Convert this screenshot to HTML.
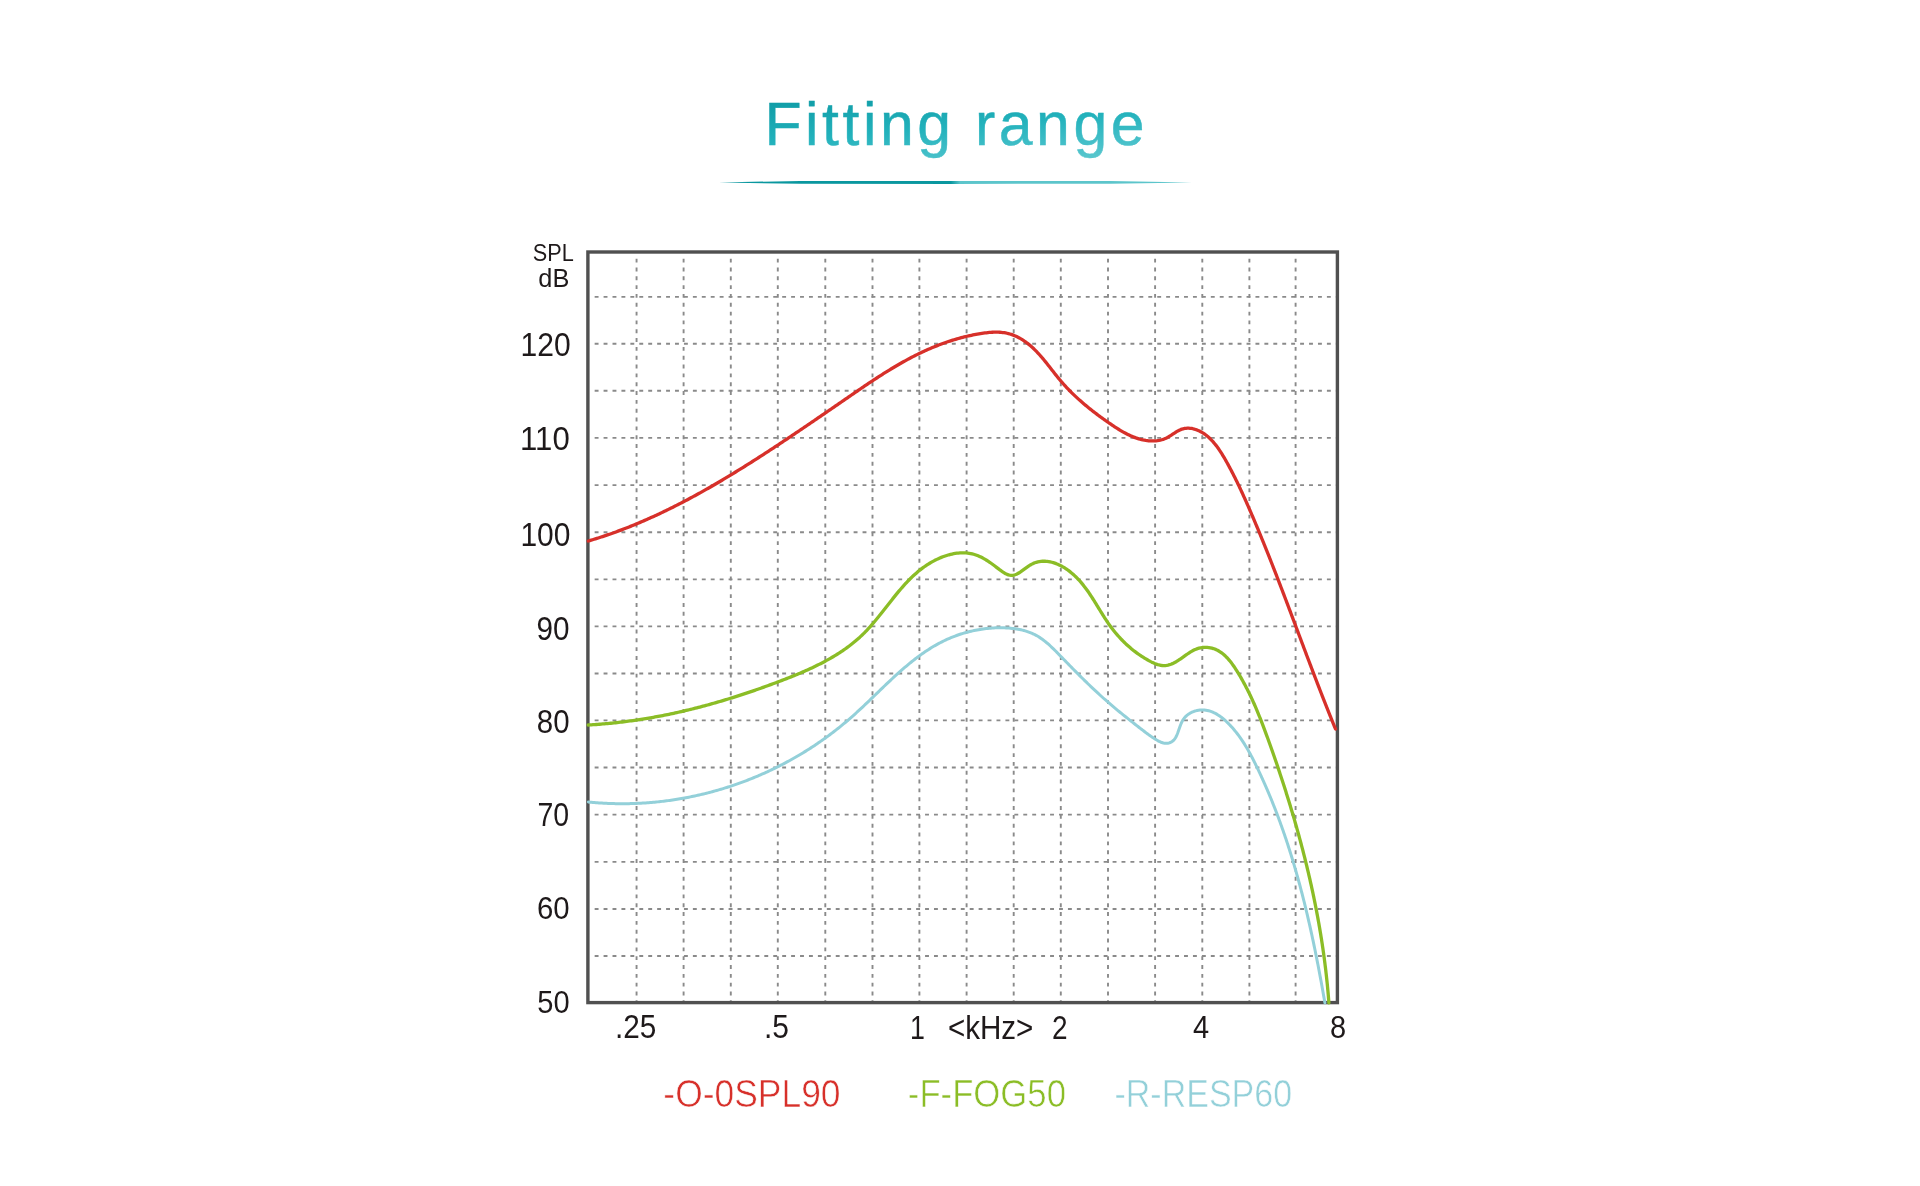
<!DOCTYPE html>
<html><head><meta charset="utf-8"><title>Fitting range</title>
<style>
html,body{margin:0;padding:0;background:#fff;width:1920px;height:1186px;overflow:hidden}
svg{display:block}
text{font-family:"Liberation Sans",sans-serif}
.gv{stroke:#8a8a8a;stroke-width:1.9;stroke-dasharray:3.9 4.93}
.gh{stroke:#8a8a8a;stroke-width:1.9;stroke-dasharray:3.9 5.03}
.c{fill:none;stroke-width:3.3;stroke-linecap:round;stroke-linejoin:round}
</style></head>
<body>
<svg width="1920" height="1186" viewBox="0 0 1920 1186">
<defs>
<linearGradient id="tg" x1="0" y1="0" x2="0.858" y2="1.83">
<stop offset="0" stop-color="#0a96a0"/>
<stop offset="0.35" stop-color="#23b2bc"/>
<stop offset="0.56" stop-color="#4bc2cb"/>
<stop offset="0.66" stop-color="#5fc8cd"/>
<stop offset="1" stop-color="#70d0d5"/>
</linearGradient>
<linearGradient id="lg" x1="719" y1="0" x2="1192" y2="0" gradientUnits="userSpaceOnUse">
<stop offset="0" stop-color="#0a979f"/>
<stop offset="0.49" stop-color="#0a979f"/>
<stop offset="0.51" stop-color="#5cc5cb"/>
<stop offset="1" stop-color="#5cc5cb"/>
</linearGradient>
</defs>
<rect width="1920" height="1186" fill="#fff"/>
<polygon fill="url(#lg)" points="719,182.4 800,181 955,180.9 1110,181 1192,182.4 1110,183.8 955,183.9 800,183.8"/>
<g>
<line x1="636.56" y1="258.65" x2="636.56" y2="1001" class="gv"/>
<line x1="683.60" y1="258.65" x2="683.60" y2="1001" class="gv"/>
<line x1="730.80" y1="258.65" x2="730.80" y2="1001" class="gv"/>
<line x1="777.80" y1="258.65" x2="777.80" y2="1001" class="gv"/>
<line x1="825.30" y1="258.65" x2="825.30" y2="1001" class="gv"/>
<line x1="872.50" y1="258.65" x2="872.50" y2="1001" class="gv"/>
<line x1="919.40" y1="258.65" x2="919.40" y2="1001" class="gv"/>
<line x1="966.60" y1="258.65" x2="966.60" y2="1001" class="gv"/>
<line x1="1013.70" y1="258.65" x2="1013.70" y2="1001" class="gv"/>
<line x1="1060.80" y1="258.65" x2="1060.80" y2="1001" class="gv"/>
<line x1="1108.00" y1="258.65" x2="1108.00" y2="1001" class="gv"/>
<line x1="1155.10" y1="258.65" x2="1155.10" y2="1001" class="gv"/>
<line x1="1202.30" y1="258.65" x2="1202.30" y2="1001" class="gv"/>
<line x1="1249.40" y1="258.65" x2="1249.40" y2="1001" class="gv"/>
<line x1="1295.60" y1="258.65" x2="1295.60" y2="1001" class="gv"/>
<line x1="594.65" y1="296.90" x2="1336" y2="296.90" class="gh"/>
<line x1="594.65" y1="343.70" x2="1336" y2="343.70" class="gh"/>
<line x1="594.65" y1="390.80" x2="1336" y2="390.80" class="gh"/>
<line x1="594.65" y1="437.90" x2="1336" y2="437.90" class="gh"/>
<line x1="594.65" y1="485.10" x2="1336" y2="485.10" class="gh"/>
<line x1="594.65" y1="532.20" x2="1336" y2="532.20" class="gh"/>
<line x1="594.65" y1="579.40" x2="1336" y2="579.40" class="gh"/>
<line x1="594.65" y1="626.40" x2="1336" y2="626.40" class="gh"/>
<line x1="594.65" y1="673.50" x2="1336" y2="673.50" class="gh"/>
<line x1="594.65" y1="720.40" x2="1336" y2="720.40" class="gh"/>
<line x1="594.65" y1="767.50" x2="1336" y2="767.50" class="gh"/>
<line x1="594.65" y1="814.60" x2="1336" y2="814.60" class="gh"/>
<line x1="594.65" y1="861.90" x2="1336" y2="861.90" class="gh"/>
<line x1="594.65" y1="909.00" x2="1336" y2="909.00" class="gh"/>
<line x1="594.65" y1="956.00" x2="1336" y2="956.00" class="gh"/>
</g>
<rect x="587.9" y="252" width="749.5" height="750.6" fill="none" stroke="#505050" stroke-width="3.4"/>
<path class="c" stroke="#93d0d9" style="stroke-width:3.0" d="M588.40,802.00 L589.90,802.15 L591.41,802.29 L592.92,802.43 L594.43,802.56 L595.93,802.68 L597.44,802.80 L598.95,802.91 L600.46,803.01 L601.97,803.10 L603.48,803.19 L604.99,803.27 L606.49,803.34 L608.00,803.41 L609.51,803.47 L611.02,803.53 L612.53,803.57 L614.04,803.61 L615.55,803.65 L617.06,803.67 L618.57,803.69 L620.07,803.71 L621.58,803.71 L623.09,803.71 L624.60,803.71 L626.11,803.69 L627.61,803.67 L629.12,803.65 L630.63,803.61 L632.13,803.57 L633.64,803.52 L635.14,803.47 L636.65,803.41 L638.15,803.34 L639.66,803.27 L641.16,803.19 L642.66,803.10 L644.17,803.01 L645.67,802.91 L647.17,802.80 L648.67,802.69 L650.17,802.57 L651.67,802.44 L653.17,802.31 L654.67,802.17 L656.16,802.03 L657.66,801.87 L659.16,801.71 L660.65,801.55 L662.15,801.38 L663.64,801.20 L665.13,801.01 L666.62,800.82 L668.11,800.62 L669.60,800.42 L671.09,800.21 L672.58,799.99 L674.07,799.77 L675.55,799.54 L677.04,799.30 L678.52,799.06 L680.00,798.81 L681.48,798.55 L682.96,798.29 L684.44,798.02 L685.92,797.74 L687.40,797.46 L688.87,797.17 L690.34,796.88 L691.82,796.58 L693.29,796.27 L694.76,795.96 L696.23,795.64 L697.69,795.31 L699.16,794.98 L700.62,794.64 L702.08,794.30 L703.55,793.95 L705.01,793.59 L706.46,793.23 L707.92,792.86 L709.37,792.48 L710.83,792.10 L712.28,791.71 L713.73,791.31 L715.18,790.91 L716.62,790.51 L718.07,790.09 L719.51,789.67 L720.95,789.25 L722.39,788.81 L723.83,788.38 L725.26,787.93 L726.70,787.48 L728.13,787.03 L729.56,786.56 L730.99,786.09 L732.41,785.62 L733.84,785.14 L735.26,784.65 L736.68,784.16 L738.10,783.66 L739.51,783.15 L740.93,782.64 L742.34,782.12 L743.75,781.60 L745.15,781.07 L746.56,780.53 L747.96,779.99 L749.36,779.44 L750.76,778.89 L752.15,778.33 L753.55,777.76 L754.94,777.19 L756.33,776.61 L757.71,776.03 L759.09,775.44 L760.48,774.84 L761.85,774.24 L763.23,773.63 L764.60,773.02 L765.97,772.40 L767.34,771.78 L768.71,771.14 L770.07,770.51 L771.43,769.86 L772.79,769.21 L774.15,768.56 L775.50,767.90 L776.85,767.23 L778.19,766.56 L779.54,765.88 L780.88,765.20 L782.22,764.51 L783.55,763.81 L784.89,763.11 L786.22,762.40 L787.54,761.69 L788.87,760.97 L790.19,760.24 L791.50,759.51 L792.82,758.78 L794.13,758.04 L795.44,757.29 L796.74,756.53 L798.05,755.77 L799.35,755.01 L800.64,754.24 L801.93,753.46 L803.22,752.68 L804.51,751.89 L805.79,751.10 L807.07,750.30 L808.35,749.49 L809.62,748.68 L810.89,747.87 L812.16,747.05 L813.42,746.22 L814.68,745.38 L815.93,744.55 L817.19,743.70 L818.44,742.85 L819.68,742.00 L820.92,741.13 L822.16,740.27 L823.39,739.40 L824.63,738.52 L825.85,737.63 L827.08,736.75 L828.30,735.85 L829.51,734.95 L830.72,734.05 L831.93,733.13 L833.14,732.22 L834.34,731.30 L835.53,730.37 L836.73,729.43 L837.92,728.50 L839.10,727.55 L840.28,726.60 L841.46,725.65 L842.63,724.69 L843.80,723.72 L844.97,722.75 L846.13,721.77 L847.28,720.79 L848.44,719.80 L849.59,718.81 L850.73,717.81 L851.87,716.81 L853.01,715.80 L854.14,714.79 L855.27,713.77 L856.40,712.75 L857.52,711.73 L858.64,710.70 L859.76,709.66 L860.87,708.63 L861.98,707.59 L863.09,706.55 L864.20,705.50 L865.30,704.46 L866.41,703.41 L867.51,702.36 L868.61,701.31 L869.71,700.25 L870.80,699.20 L871.90,698.14 L872.99,697.09 L874.09,696.03 L875.18,694.97 L876.27,693.92 L877.37,692.86 L878.46,691.81 L879.55,690.75 L880.64,689.70 L881.73,688.64 L882.83,687.59 L883.92,686.54 L885.01,685.50 L886.11,684.45 L887.21,683.41 L888.30,682.37 L889.40,681.33 L890.50,680.29 L891.60,679.26 L892.71,678.24 L893.81,677.21 L894.92,676.19 L896.03,675.18 L897.14,674.16 L898.26,673.16 L899.38,672.16 L900.50,671.16 L901.62,670.17 L902.75,669.18 L903.88,668.21 L905.02,667.23 L906.15,666.27 L907.30,665.31 L908.44,664.35 L909.59,663.41 L910.75,662.47 L911.91,661.54 L913.07,660.61 L914.24,659.70 L915.41,658.79 L916.59,657.89 L917.78,657.00 L918.97,656.12 L920.16,655.25 L921.36,654.39 L922.57,653.53 L923.78,652.69 L925.00,651.86 L926.23,651.03 L927.46,650.22 L928.70,649.42 L929.95,648.63 L931.20,647.85 L932.46,647.08 L933.73,646.33 L935.00,645.59 L936.29,644.85 L937.58,644.14 L938.88,643.43 L940.18,642.74 L941.50,642.06 L942.82,641.39 L944.15,640.74 L945.49,640.10 L946.84,639.47 L948.20,638.86 L949.57,638.27 L950.95,637.69 L952.34,637.12 L953.73,636.57 L955.14,636.03 L956.55,635.51 L957.98,635.01 L959.41,634.52 L960.85,634.05 L962.30,633.59 L963.75,633.15 L965.21,632.73 L966.68,632.32 L968.15,631.93 L969.63,631.55 L971.12,631.20 L972.61,630.86 L974.10,630.53 L975.60,630.23 L977.10,629.94 L978.61,629.66 L980.12,629.41 L981.64,629.17 L983.15,628.96 L984.67,628.76 L986.19,628.57 L987.72,628.41 L989.24,628.27 L990.77,628.14 L992.29,628.03 L993.82,627.94 L995.35,627.87 L996.88,627.82 L998.40,627.79 L999.93,627.78 L1001.45,627.78 L1002.98,627.81 L1004.50,627.86 L1006.02,627.92 L1007.54,628.01 L1009.05,628.12 L1010.56,628.24 L1012.07,628.39 L1013.56,628.57 L1015.06,628.77 L1016.54,628.99 L1018.02,629.24 L1019.49,629.52 L1020.95,629.83 L1022.40,630.16 L1023.83,630.53 L1025.26,630.93 L1026.67,631.36 L1028.07,631.82 L1029.45,632.31 L1030.82,632.85 L1032.17,633.41 L1033.50,634.02 L1034.81,634.66 L1036.11,635.35 L1037.38,636.07 L1038.64,636.82 L1039.88,637.62 L1041.11,638.44 L1042.31,639.30 L1043.51,640.18 L1044.68,641.10 L1045.85,642.03 L1047.00,642.99 L1048.14,643.98 L1049.27,644.98 L1050.39,646.00 L1051.50,647.04 L1052.60,648.09 L1053.70,649.15 L1054.78,650.22 L1055.86,651.31 L1056.94,652.39 L1058.01,653.49 L1059.08,654.58 L1060.14,655.68 L1061.20,656.77 L1062.26,657.87 L1063.32,658.96 L1064.38,660.05 L1065.44,661.14 L1066.50,662.22 L1067.55,663.31 L1068.61,664.39 L1069.66,665.47 L1070.71,666.54 L1071.77,667.62 L1072.82,668.69 L1073.88,669.76 L1074.93,670.83 L1075.99,671.89 L1077.04,672.96 L1078.10,674.02 L1079.16,675.07 L1080.21,676.13 L1081.27,677.19 L1082.34,678.24 L1083.40,679.29 L1084.46,680.33 L1085.53,681.38 L1086.60,682.42 L1087.67,683.46 L1088.74,684.50 L1089.82,685.53 L1090.89,686.56 L1091.98,687.59 L1093.06,688.62 L1094.15,689.64 L1095.24,690.67 L1096.33,691.68 L1097.43,692.70 L1098.53,693.72 L1099.63,694.73 L1100.74,695.74 L1101.85,696.74 L1102.97,697.75 L1104.09,698.75 L1105.22,699.74 L1106.35,700.74 L1107.49,701.73 L1108.63,702.72 L1109.78,703.71 L1110.93,704.69 L1112.08,705.68 L1113.24,706.66 L1114.40,707.63 L1115.57,708.60 L1116.74,709.58 L1117.91,710.54 L1119.09,711.51 L1120.26,712.47 L1121.44,713.43 L1122.62,714.38 L1123.80,715.34 L1124.99,716.29 L1126.17,717.23 L1127.35,718.18 L1128.54,719.12 L1129.72,720.06 L1130.90,720.99 L1132.08,721.92 L1133.26,722.85 L1134.44,723.78 L1135.62,724.70 L1136.79,725.62 L1137.96,726.53 L1139.13,727.45 L1140.30,728.36 L1141.46,729.26 L1142.63,730.17 L1143.80,731.06 L1144.97,731.96 L1146.15,732.85 L1147.35,733.74 L1148.56,734.62 L1149.79,735.49 L1151.03,736.36 L1152.30,737.23 L1153.60,738.08 L1154.93,738.93 L1156.28,739.77 L1157.66,740.57 L1159.07,741.32 L1160.49,741.98 L1161.92,742.54 L1163.36,742.96 L1164.80,743.24 L1166.25,743.33 L1167.68,743.24 L1169.08,742.95 L1170.40,742.49 L1171.63,741.87 L1172.72,741.09 L1173.70,740.18 L1174.58,739.14 L1175.37,737.99 L1176.07,736.74 L1176.72,735.41 L1177.31,734.02 L1177.87,732.56 L1178.40,731.07 L1178.92,729.55 L1179.45,728.02 L1179.99,726.48 L1180.56,724.96 L1181.17,723.47 L1181.83,722.02 L1182.57,720.63 L1183.38,719.31 L1184.29,718.07 L1185.30,716.92 L1186.38,715.85 L1187.54,714.87 L1188.77,713.98 L1190.05,713.18 L1191.39,712.46 L1192.77,711.83 L1194.19,711.29 L1195.64,710.84 L1197.10,710.48 L1198.58,710.20 L1200.06,710.02 L1201.54,709.92 L1203.00,709.92 L1204.45,710.00 L1205.88,710.17 L1207.29,710.42 L1208.69,710.75 L1210.07,711.15 L1211.43,711.62 L1212.77,712.16 L1214.10,712.76 L1215.40,713.42 L1216.69,714.14 L1217.96,714.92 L1219.21,715.74 L1220.44,716.60 L1221.65,717.51 L1222.84,718.46 L1224.01,719.44 L1225.17,720.45 L1226.30,721.49 L1227.42,722.55 L1228.51,723.63 L1229.58,724.73 L1230.64,725.85 L1231.67,726.97 L1232.69,728.11 L1233.68,729.26 L1234.66,730.42 L1235.62,731.60 L1236.56,732.78 L1237.49,733.98 L1238.40,735.19 L1239.29,736.40 L1240.17,737.63 L1241.03,738.86 L1241.88,740.11 L1242.72,741.36 L1243.54,742.63 L1244.35,743.90 L1245.14,745.17 L1245.92,746.46 L1246.70,747.75 L1247.46,749.05 L1248.21,750.36 L1248.95,751.67 L1249.68,752.98 L1250.40,754.31 L1251.11,755.63 L1251.82,756.97 L1252.51,758.30 L1253.20,759.64 L1253.89,760.99 L1254.56,762.33 L1255.23,763.68 L1255.90,765.04 L1256.56,766.39 L1257.21,767.75 L1257.87,769.11 L1258.51,770.47 L1259.16,771.83 L1259.80,773.19 L1260.44,774.56 L1261.07,775.93 L1261.70,777.29 L1262.32,778.66 L1262.94,780.04 L1263.56,781.41 L1264.18,782.78 L1264.79,784.16 L1265.39,785.53 L1265.99,786.91 L1266.59,788.29 L1267.19,789.67 L1267.78,791.06 L1268.37,792.44 L1268.96,793.83 L1269.54,795.21 L1270.11,796.60 L1270.69,797.99 L1271.26,799.38 L1271.83,800.78 L1272.39,802.17 L1272.95,803.57 L1273.51,804.96 L1274.06,806.36 L1274.61,807.76 L1275.16,809.16 L1275.70,810.56 L1276.24,811.97 L1276.78,813.37 L1277.31,814.78 L1277.84,816.18 L1278.37,817.59 L1278.89,819.00 L1279.41,820.41 L1279.93,821.82 L1280.44,823.23 L1280.95,824.65 L1281.46,826.06 L1281.96,827.48 L1282.46,828.90 L1282.96,830.32 L1283.46,831.74 L1283.95,833.16 L1284.44,834.58 L1284.92,836.00 L1285.41,837.43 L1285.89,838.85 L1286.36,840.28 L1286.84,841.71 L1287.31,843.13 L1287.78,844.56 L1288.24,845.99 L1288.70,847.43 L1289.16,848.86 L1289.62,850.29 L1290.07,851.73 L1290.52,853.16 L1290.97,854.60 L1291.41,856.04 L1291.86,857.47 L1292.30,858.91 L1292.73,860.35 L1293.17,861.79 L1293.60,863.24 L1294.03,864.68 L1294.45,866.12 L1294.88,867.57 L1295.30,869.01 L1295.71,870.46 L1296.13,871.91 L1296.54,873.35 L1296.95,874.80 L1297.36,876.25 L1297.77,877.70 L1298.17,879.16 L1298.57,880.61 L1298.97,882.06 L1299.36,883.51 L1299.76,884.97 L1300.15,886.42 L1300.53,887.88 L1300.92,889.33 L1301.30,890.79 L1301.68,892.25 L1302.06,893.71 L1302.44,895.17 L1302.81,896.63 L1303.19,898.09 L1303.56,899.55 L1303.92,901.01 L1304.29,902.47 L1304.65,903.94 L1305.01,905.40 L1305.37,906.86 L1305.73,908.33 L1306.08,909.79 L1306.43,911.26 L1306.78,912.73 L1307.13,914.19 L1307.48,915.66 L1307.82,917.13 L1308.16,918.60 L1308.50,920.07 L1308.84,921.54 L1309.18,923.01 L1309.51,924.48 L1309.84,925.95 L1310.17,927.42 L1310.50,928.89 L1310.83,930.36 L1311.15,931.83 L1311.48,933.31 L1311.80,934.78 L1312.12,936.25 L1312.43,937.73 L1312.75,939.20 L1313.06,940.68 L1313.37,942.15 L1313.68,943.63 L1313.99,945.10 L1314.30,946.58 L1314.60,948.06 L1314.91,949.53 L1315.21,951.01 L1315.51,952.49 L1315.81,953.97 L1316.11,955.44 L1316.40,956.92 L1316.70,958.40 L1316.99,959.88 L1317.28,961.36 L1317.57,962.84 L1317.86,964.32 L1318.15,965.79 L1318.43,967.27 L1318.71,968.75 L1319.00,970.23 L1319.28,971.71 L1319.56,973.19 L1319.84,974.67 L1320.11,976.15 L1320.39,977.63 L1320.66,979.11 L1320.94,980.59 L1321.21,982.07 L1321.48,983.55 L1321.75,985.04 L1322.02,986.52 L1322.28,988.00 L1322.55,989.48 L1322.82,990.96 L1323.08,992.44 L1323.34,993.92 L1323.60,995.40 L1323.86,996.88 L1324.12,998.36 L1324.38,999.84 L1324.64,1001.32 L1324.90,1002.80"/>
<path class="c" stroke="#8bbd26" d="M588.19,725.00 L589.82,724.90 L591.44,724.80 L593.06,724.70 L594.68,724.59 L596.30,724.48 L597.91,724.36 L599.52,724.24 L601.13,724.11 L602.74,723.98 L604.35,723.84 L605.96,723.69 L607.56,723.55 L609.17,723.40 L610.77,723.24 L612.37,723.08 L613.97,722.91 L615.57,722.74 L617.16,722.56 L618.75,722.38 L620.35,722.20 L621.94,722.01 L623.53,721.82 L625.12,721.62 L626.70,721.41 L628.29,721.21 L629.87,720.99 L631.45,720.78 L633.03,720.56 L634.61,720.33 L636.19,720.10 L637.77,719.86 L639.34,719.63 L640.92,719.38 L642.49,719.13 L644.06,718.88 L645.63,718.63 L647.20,718.36 L648.77,718.10 L650.34,717.83 L651.90,717.55 L653.47,717.28 L655.03,716.99 L656.59,716.71 L658.15,716.42 L659.71,716.12 L661.27,715.82 L662.83,715.52 L664.38,715.21 L665.94,714.90 L667.49,714.58 L669.04,714.26 L670.60,713.94 L672.15,713.61 L673.70,713.28 L675.25,712.94 L676.79,712.60 L678.34,712.26 L679.89,711.91 L681.43,711.56 L682.97,711.20 L684.52,710.84 L686.06,710.48 L687.60,710.11 L689.14,709.74 L690.68,709.36 L692.22,708.98 L693.76,708.60 L695.29,708.21 L696.83,707.82 L698.36,707.42 L699.90,707.03 L701.43,706.62 L702.97,706.22 L704.50,705.81 L706.03,705.39 L707.56,704.98 L709.09,704.56 L710.62,704.13 L712.15,703.70 L713.68,703.27 L715.20,702.84 L716.73,702.40 L718.26,701.96 L719.78,701.51 L721.31,701.06 L722.83,700.61 L724.36,700.15 L725.88,699.69 L727.40,699.23 L728.93,698.76 L730.45,698.29 L731.97,697.82 L733.49,697.34 L735.01,696.86 L736.53,696.38 L738.05,695.89 L739.57,695.40 L741.09,694.91 L742.61,694.41 L744.13,693.91 L745.64,693.41 L747.16,692.90 L748.68,692.39 L750.20,691.88 L751.71,691.36 L753.23,690.84 L754.74,690.32 L756.26,689.79 L757.78,689.26 L759.29,688.73 L760.81,688.20 L762.32,687.66 L763.84,687.12 L765.35,686.57 L766.86,686.03 L768.38,685.48 L769.89,684.92 L771.41,684.37 L772.92,683.81 L774.43,683.25 L775.95,682.68 L777.46,682.12 L778.98,681.55 L780.49,680.97 L782.00,680.40 L783.51,679.82 L785.03,679.23 L786.54,678.64 L788.05,678.05 L789.55,677.46 L791.06,676.86 L792.57,676.25 L794.07,675.64 L795.57,675.03 L797.07,674.41 L798.56,673.79 L800.06,673.16 L801.54,672.52 L803.03,671.88 L804.51,671.23 L805.99,670.58 L807.47,669.92 L808.94,669.25 L810.41,668.58 L811.87,667.90 L813.33,667.21 L814.78,666.52 L816.23,665.81 L817.67,665.10 L819.11,664.39 L820.54,663.66 L821.97,662.93 L823.39,662.18 L824.80,661.43 L826.21,660.67 L827.61,659.90 L829.00,659.12 L830.39,658.33 L831.77,657.54 L833.14,656.73 L834.50,655.91 L835.86,655.08 L837.21,654.24 L838.55,653.40 L839.88,652.54 L841.20,651.67 L842.52,650.78 L843.82,649.89 L845.12,648.99 L846.40,648.07 L847.68,647.14 L848.94,646.20 L850.20,645.25 L851.44,644.28 L852.68,643.31 L853.90,642.32 L855.12,641.31 L856.32,640.30 L857.51,639.27 L858.69,638.22 L859.86,637.17 L861.01,636.09 L862.16,635.01 L863.29,633.91 L864.41,632.80 L865.52,631.67 L866.61,630.53 L867.70,629.38 L868.78,628.21 L869.84,627.04 L870.90,625.85 L871.95,624.66 L872.99,623.46 L874.03,622.24 L875.06,621.02 L876.08,619.80 L877.10,618.56 L878.11,617.32 L879.12,616.08 L880.12,614.83 L881.12,613.57 L882.12,612.31 L883.11,611.05 L884.10,609.79 L885.09,608.52 L886.08,607.25 L887.07,605.98 L888.06,604.72 L889.05,603.45 L890.05,602.18 L891.04,600.92 L892.04,599.65 L893.04,598.39 L894.04,597.14 L895.04,595.89 L896.06,594.64 L897.07,593.40 L898.09,592.16 L899.12,590.93 L900.15,589.71 L901.20,588.49 L902.25,587.29 L903.30,586.09 L904.37,584.90 L905.44,583.72 L906.53,582.56 L907.62,581.40 L908.73,580.26 L909.85,579.13 L910.98,578.01 L912.12,576.91 L913.28,575.82 L914.44,574.74 L915.63,573.68 L916.82,572.64 L918.04,571.61 L919.26,570.60 L920.51,569.61 L921.77,568.64 L923.05,567.69 L924.34,566.75 L925.66,565.84 L926.99,564.95 L928.34,564.08 L929.71,563.23 L931.11,562.40 L932.52,561.60 L933.95,560.83 L935.40,560.08 L936.86,559.36 L938.34,558.67 L939.83,558.01 L941.33,557.38 L942.85,556.79 L944.37,556.23 L945.91,555.71 L947.45,555.23 L949.00,554.78 L950.55,554.38 L952.11,554.02 L953.67,553.71 L955.23,553.44 L956.79,553.22 L958.36,553.04 L959.92,552.92 L961.47,552.85 L963.03,552.83 L964.57,552.86 L966.11,552.95 L967.65,553.09 L969.17,553.30 L970.69,553.56 L972.19,553.88 L973.68,554.27 L975.16,554.72 L976.62,555.23 L978.08,555.80 L979.52,556.42 L980.95,557.09 L982.37,557.82 L983.79,558.58 L985.19,559.39 L986.59,560.24 L987.98,561.13 L989.36,562.05 L990.74,563.01 L992.11,563.99 L993.48,564.99 L994.85,566.02 L996.21,567.07 L997.57,568.13 L998.93,569.18 L1000.29,570.21 L1001.65,571.19 L1003.00,572.11 L1004.35,572.96 L1005.70,573.71 L1007.05,574.34 L1008.40,574.84 L1009.75,575.19 L1011.09,575.37 L1012.44,575.36 L1013.78,575.15 L1015.13,574.77 L1016.47,574.23 L1017.82,573.55 L1019.18,572.76 L1020.54,571.88 L1021.91,570.92 L1023.28,569.92 L1024.67,568.90 L1026.07,567.87 L1027.49,566.85 L1028.92,565.88 L1030.36,564.96 L1031.82,564.13 L1033.31,563.40 L1034.81,562.79 L1036.32,562.28 L1037.85,561.88 L1039.39,561.57 L1040.94,561.36 L1042.49,561.25 L1044.04,561.22 L1045.60,561.27 L1047.15,561.41 L1048.69,561.62 L1050.23,561.90 L1051.76,562.25 L1053.27,562.67 L1054.76,563.14 L1056.24,563.67 L1057.70,564.26 L1059.14,564.90 L1060.56,565.59 L1061.97,566.33 L1063.35,567.11 L1064.71,567.94 L1066.05,568.81 L1067.37,569.72 L1068.67,570.66 L1069.95,571.64 L1071.20,572.66 L1072.44,573.70 L1073.65,574.77 L1074.83,575.87 L1076.00,577.00 L1077.14,578.14 L1078.25,579.31 L1079.34,580.49 L1080.41,581.70 L1081.46,582.91 L1082.48,584.15 L1083.49,585.39 L1084.47,586.65 L1085.44,587.93 L1086.39,589.21 L1087.33,590.51 L1088.25,591.82 L1089.15,593.14 L1090.05,594.46 L1090.93,595.80 L1091.81,597.14 L1092.67,598.49 L1093.53,599.84 L1094.38,601.19 L1095.23,602.56 L1096.07,603.92 L1096.91,605.28 L1097.74,606.65 L1098.58,608.02 L1099.41,609.38 L1100.24,610.75 L1101.08,612.11 L1101.92,613.47 L1102.77,614.82 L1103.62,616.17 L1104.47,617.52 L1105.34,618.86 L1106.21,620.19 L1107.09,621.51 L1107.98,622.82 L1108.89,624.13 L1109.81,625.42 L1110.74,626.70 L1111.69,627.97 L1112.65,629.23 L1113.62,630.48 L1114.61,631.71 L1115.62,632.94 L1116.64,634.15 L1117.67,635.34 L1118.72,636.53 L1119.78,637.70 L1120.86,638.86 L1121.96,640.00 L1123.07,641.13 L1124.20,642.25 L1125.34,643.35 L1126.50,644.44 L1127.67,645.52 L1128.86,646.58 L1130.07,647.62 L1131.30,648.65 L1132.54,649.67 L1133.79,650.67 L1135.07,651.65 L1136.36,652.62 L1137.67,653.57 L1139.00,654.51 L1140.34,655.43 L1141.71,656.34 L1143.09,657.22 L1144.48,658.09 L1145.90,658.95 L1147.34,659.78 L1148.79,660.60 L1150.26,661.39 L1151.74,662.14 L1153.23,662.84 L1154.73,663.48 L1156.23,664.06 L1157.74,664.56 L1159.24,664.97 L1160.74,665.29 L1162.24,665.49 L1163.72,665.58 L1165.19,665.55 L1166.66,665.38 L1168.10,665.10 L1169.54,664.71 L1170.97,664.22 L1172.38,663.64 L1173.78,662.98 L1175.18,662.25 L1176.57,661.45 L1177.94,660.60 L1179.31,659.71 L1180.68,658.79 L1182.03,657.84 L1183.38,656.88 L1184.73,655.91 L1186.09,654.95 L1187.45,654.00 L1188.82,653.08 L1190.20,652.19 L1191.60,651.35 L1193.03,650.56 L1194.48,649.83 L1195.96,649.18 L1197.47,648.61 L1199.02,648.14 L1200.62,647.77 L1202.25,647.51 L1203.92,647.36 L1205.59,647.32 L1207.22,647.39 L1208.81,647.54 L1210.35,647.79 L1211.85,648.12 L1213.31,648.54 L1214.74,649.04 L1216.12,649.62 L1217.47,650.27 L1218.78,650.99 L1220.05,651.78 L1221.29,652.63 L1222.50,653.55 L1223.68,654.51 L1224.83,655.54 L1225.95,656.61 L1227.04,657.72 L1228.10,658.88 L1229.14,660.08 L1230.16,661.32 L1231.15,662.58 L1232.13,663.88 L1233.08,665.20 L1234.01,666.54 L1234.93,667.90 L1235.83,669.28 L1236.71,670.67 L1237.58,672.06 L1238.44,673.46 L1239.28,674.87 L1240.12,676.27 L1240.94,677.68 L1241.75,679.09 L1242.55,680.51 L1243.34,681.93 L1244.11,683.35 L1244.88,684.78 L1245.64,686.20 L1246.38,687.64 L1247.12,689.07 L1247.84,690.50 L1248.56,691.94 L1249.27,693.38 L1249.97,694.83 L1250.66,696.28 L1251.34,697.72 L1252.02,699.17 L1252.68,700.63 L1253.34,702.08 L1253.99,703.54 L1254.63,705.00 L1255.27,706.46 L1255.90,707.93 L1256.52,709.39 L1257.14,710.86 L1257.75,712.33 L1258.36,713.80 L1258.96,715.28 L1259.55,716.75 L1260.14,718.23 L1260.73,719.71 L1261.30,721.19 L1261.88,722.67 L1262.45,724.15 L1263.02,725.64 L1263.58,727.12 L1264.14,728.61 L1264.70,730.10 L1265.25,731.59 L1265.80,733.08 L1266.35,734.57 L1266.90,736.06 L1267.44,737.56 L1267.98,739.05 L1268.53,740.55 L1269.06,742.04 L1269.60,743.54 L1270.14,745.04 L1270.67,746.53 L1271.21,748.03 L1271.74,749.53 L1272.27,751.04 L1272.80,752.54 L1273.32,754.04 L1273.85,755.54 L1274.37,757.05 L1274.89,758.55 L1275.41,760.06 L1275.93,761.56 L1276.45,763.07 L1276.97,764.58 L1277.48,766.09 L1277.99,767.60 L1278.50,769.11 L1279.01,770.62 L1279.52,772.13 L1280.02,773.65 L1280.52,775.16 L1281.03,776.67 L1281.53,778.19 L1282.02,779.70 L1282.52,781.22 L1283.01,782.74 L1283.51,784.26 L1284.00,785.78 L1284.49,787.30 L1284.97,788.82 L1285.46,790.34 L1285.94,791.86 L1286.42,793.38 L1286.90,794.90 L1287.38,796.43 L1287.85,797.95 L1288.33,799.48 L1288.80,801.00 L1289.27,802.53 L1289.73,804.06 L1290.20,805.59 L1290.66,807.12 L1291.12,808.65 L1291.58,810.18 L1292.04,811.71 L1292.50,813.24 L1292.95,814.77 L1293.40,816.30 L1293.85,817.84 L1294.30,819.37 L1294.74,820.91 L1295.18,822.44 L1295.63,823.98 L1296.06,825.52 L1296.50,827.05 L1296.93,828.59 L1297.37,830.13 L1297.80,831.67 L1298.22,833.21 L1298.65,834.75 L1299.07,836.30 L1299.49,837.84 L1299.91,839.38 L1300.33,840.92 L1300.74,842.47 L1301.15,844.01 L1301.56,845.56 L1301.97,847.11 L1302.37,848.65 L1302.78,850.20 L1303.18,851.75 L1303.58,853.30 L1303.97,854.85 L1304.36,856.40 L1304.75,857.95 L1305.14,859.50 L1305.53,861.05 L1305.91,862.60 L1306.29,864.15 L1306.67,865.71 L1307.05,867.26 L1307.42,868.82 L1307.79,870.37 L1308.16,871.93 L1308.53,873.48 L1308.89,875.04 L1309.25,876.60 L1309.61,878.16 L1309.97,879.71 L1310.32,881.27 L1310.67,882.83 L1311.02,884.39 L1311.36,885.96 L1311.71,887.52 L1312.05,889.08 L1312.38,890.64 L1312.72,892.20 L1313.05,893.77 L1313.38,895.33 L1313.71,896.90 L1314.03,898.46 L1314.35,900.03 L1314.67,901.59 L1314.99,903.16 L1315.30,904.73 L1315.61,906.30 L1315.92,907.86 L1316.23,909.43 L1316.53,911.00 L1316.83,912.57 L1317.12,914.14 L1317.42,915.71 L1317.71,917.29 L1318.00,918.86 L1318.28,920.43 L1318.57,922.00 L1318.85,923.58 L1319.12,925.15 L1319.40,926.72 L1319.67,928.30 L1319.93,929.87 L1320.20,931.45 L1320.46,933.03 L1320.72,934.60 L1320.98,936.18 L1321.23,937.76 L1321.48,939.34 L1321.73,940.91 L1321.97,942.49 L1322.21,944.07 L1322.45,945.65 L1322.69,947.23 L1322.92,948.81 L1323.15,950.40 L1323.37,951.98 L1323.59,953.56 L1323.81,955.14 L1324.03,956.72 L1324.24,958.31 L1324.45,959.89 L1324.66,961.48 L1324.86,963.06 L1325.06,964.65 L1325.26,966.23 L1325.46,967.82 L1325.65,969.40 L1325.84,970.99 L1326.02,972.58 L1326.20,974.16 L1326.38,975.75 L1326.55,977.34 L1326.72,978.93 L1326.89,980.52 L1327.06,982.11 L1327.22,983.70 L1327.38,985.29 L1327.53,986.88 L1327.68,988.47 L1327.83,990.06 L1327.98,991.65 L1328.12,993.24 L1328.26,994.83 L1328.39,996.43 L1328.52,998.02 L1328.65,999.61 L1328.77,1001.21 L1328.89,1002.80"/>
<path class="c" stroke="#d7302a" d="M588.30,540.99 L589.73,540.57 L591.16,540.15 L592.59,539.72 L594.02,539.28 L595.44,538.84 L596.87,538.40 L598.29,537.95 L599.71,537.50 L601.13,537.04 L602.54,536.57 L603.96,536.11 L605.37,535.63 L606.78,535.16 L608.19,534.67 L609.60,534.19 L611.00,533.70 L612.41,533.20 L613.81,532.70 L615.21,532.20 L616.60,531.69 L618.00,531.17 L619.39,530.66 L620.79,530.13 L622.18,529.61 L623.57,529.08 L624.95,528.54 L626.34,528.00 L627.72,527.46 L629.10,526.91 L630.48,526.36 L631.86,525.81 L633.24,525.25 L634.61,524.68 L635.99,524.12 L637.36,523.54 L638.73,522.97 L640.10,522.39 L641.46,521.81 L642.83,521.22 L644.19,520.63 L645.55,520.04 L646.91,519.44 L648.27,518.84 L649.63,518.23 L650.98,517.62 L652.34,517.01 L653.69,516.39 L655.04,515.77 L656.39,515.15 L657.74,514.52 L659.08,513.89 L660.43,513.26 L661.77,512.62 L663.11,511.98 L664.45,511.34 L665.79,510.69 L667.13,510.04 L668.46,509.39 L669.80,508.73 L671.13,508.07 L672.46,507.41 L673.79,506.75 L675.12,506.08 L676.44,505.40 L677.77,504.73 L679.09,504.05 L680.41,503.37 L681.73,502.69 L683.05,502.00 L684.37,501.31 L685.69,500.62 L687.00,499.92 L688.32,499.22 L689.63,498.52 L690.94,497.82 L692.25,497.11 L693.56,496.41 L694.87,495.69 L696.17,494.98 L697.48,494.26 L698.78,493.55 L700.08,492.82 L701.38,492.10 L702.68,491.37 L703.98,490.65 L705.28,489.91 L706.57,489.18 L707.87,488.45 L709.16,487.71 L710.45,486.97 L711.74,486.22 L713.03,485.48 L714.32,484.73 L715.61,483.98 L716.89,483.23 L718.18,482.48 L719.46,481.73 L720.75,480.97 L722.03,480.21 L723.31,479.45 L724.59,478.69 L725.86,477.92 L727.14,477.15 L728.42,476.39 L729.69,475.62 L730.96,474.84 L732.24,474.07 L733.51,473.30 L734.78,472.52 L736.05,471.74 L737.31,470.96 L738.58,470.18 L739.85,469.40 L741.11,468.61 L742.38,467.82 L743.64,467.04 L744.90,466.25 L746.16,465.46 L747.42,464.67 L748.68,463.87 L749.94,463.08 L751.20,462.28 L752.45,461.49 L753.71,460.69 L754.96,459.89 L756.21,459.09 L757.47,458.29 L758.72,457.49 L759.97,456.68 L761.22,455.88 L762.47,455.07 L763.71,454.27 L764.96,453.46 L766.21,452.65 L767.45,451.84 L768.70,451.03 L769.94,450.22 L771.18,449.41 L772.43,448.59 L773.67,447.78 L774.91,446.96 L776.15,446.15 L777.39,445.33 L778.63,444.51 L779.87,443.70 L781.10,442.88 L782.34,442.06 L783.58,441.23 L784.81,440.41 L786.05,439.59 L787.28,438.77 L788.52,437.94 L789.75,437.12 L790.99,436.29 L792.22,435.47 L793.45,434.64 L794.68,433.81 L795.91,432.98 L797.15,432.16 L798.38,431.33 L799.61,430.50 L800.84,429.66 L802.07,428.83 L803.30,428.00 L804.52,427.17 L805.75,426.34 L806.98,425.50 L808.21,424.67 L809.44,423.83 L810.66,423.00 L811.89,422.16 L813.12,421.33 L814.35,420.49 L815.57,419.65 L816.80,418.81 L818.03,417.98 L819.25,417.14 L820.48,416.30 L821.71,415.46 L822.93,414.62 L824.16,413.78 L825.38,412.94 L826.61,412.10 L827.84,411.26 L829.06,410.42 L830.29,409.58 L831.51,408.73 L832.74,407.89 L833.97,407.05 L835.19,406.21 L836.42,405.36 L837.65,404.52 L838.87,403.68 L840.10,402.83 L841.33,401.99 L842.56,401.15 L843.78,400.30 L845.01,399.46 L846.24,398.61 L847.47,397.77 L848.69,396.92 L849.92,396.08 L851.15,395.24 L852.38,394.39 L853.61,393.55 L854.84,392.70 L856.07,391.86 L857.31,391.02 L858.54,390.18 L859.77,389.34 L861.01,388.50 L862.24,387.66 L863.48,386.82 L864.71,385.99 L865.95,385.15 L867.19,384.32 L868.43,383.49 L869.67,382.67 L870.91,381.84 L872.16,381.02 L873.40,380.20 L874.65,379.38 L875.90,378.56 L877.15,377.75 L878.40,376.94 L879.65,376.13 L880.91,375.33 L882.16,374.53 L883.42,373.73 L884.68,372.94 L885.94,372.15 L887.21,371.36 L888.47,370.58 L889.74,369.80 L891.01,369.03 L892.29,368.26 L893.56,367.49 L894.84,366.73 L896.12,365.98 L897.40,365.23 L898.69,364.48 L899.97,363.74 L901.26,363.00 L902.56,362.27 L903.85,361.55 L905.15,360.83 L906.45,360.12 L907.76,359.41 L909.06,358.71 L910.37,358.02 L911.69,357.33 L913.00,356.64 L914.32,355.97 L915.65,355.30 L916.97,354.64 L918.30,353.98 L919.64,353.33 L920.97,352.69 L922.31,352.06 L923.66,351.43 L925.00,350.82 L926.35,350.20 L927.71,349.60 L929.07,349.00 L930.43,348.42 L931.79,347.84 L933.16,347.27 L934.53,346.70 L935.91,346.15 L937.29,345.60 L938.67,345.06 L940.05,344.53 L941.44,344.01 L942.84,343.50 L944.24,343.00 L945.64,342.50 L947.04,342.02 L948.45,341.54 L949.86,341.08 L951.28,340.62 L952.69,340.17 L954.12,339.74 L955.54,339.31 L956.97,338.89 L958.41,338.48 L959.85,338.09 L961.29,337.70 L962.73,337.32 L964.18,336.96 L965.63,336.60 L967.09,336.25 L968.55,335.92 L970.01,335.60 L971.48,335.28 L972.95,334.98 L974.43,334.69 L975.91,334.41 L977.39,334.14 L978.88,333.88 L980.37,333.64 L981.86,333.41 L983.36,333.19 L984.86,332.98 L986.36,332.79 L987.86,332.63 L989.36,332.48 L990.86,332.36 L992.36,332.27 L993.85,332.20 L995.34,332.17 L996.83,332.17 L998.31,332.20 L999.78,332.27 L1001.25,332.38 L1002.70,332.53 L1004.15,332.72 L1005.59,332.96 L1007.01,333.25 L1008.43,333.59 L1009.83,333.97 L1011.22,334.41 L1012.59,334.89 L1013.95,335.42 L1015.30,335.99 L1016.63,336.60 L1017.95,337.25 L1019.25,337.93 L1020.53,338.66 L1021.80,339.42 L1023.06,340.21 L1024.29,341.03 L1025.51,341.88 L1026.71,342.76 L1027.89,343.67 L1029.05,344.60 L1030.20,345.56 L1031.32,346.53 L1032.43,347.53 L1033.52,348.54 L1034.59,349.58 L1035.65,350.63 L1036.69,351.70 L1037.72,352.78 L1038.74,353.87 L1039.74,354.98 L1040.73,356.11 L1041.71,357.24 L1042.69,358.38 L1043.65,359.54 L1044.61,360.70 L1045.56,361.86 L1046.50,363.04 L1047.44,364.22 L1048.37,365.40 L1049.30,366.58 L1050.23,367.77 L1051.16,368.96 L1052.08,370.15 L1053.01,371.33 L1053.93,372.52 L1054.86,373.70 L1055.79,374.87 L1056.73,376.05 L1057.67,377.21 L1058.61,378.37 L1059.56,379.52 L1060.52,380.66 L1061.49,381.79 L1062.46,382.90 L1063.44,384.01 L1064.43,385.11 L1065.42,386.20 L1066.42,387.29 L1067.43,388.36 L1068.45,389.42 L1069.48,390.48 L1070.51,391.52 L1071.55,392.56 L1072.59,393.59 L1073.65,394.61 L1074.71,395.63 L1075.78,396.63 L1076.85,397.63 L1077.93,398.62 L1079.02,399.61 L1080.12,400.59 L1081.22,401.56 L1082.33,402.52 L1083.44,403.48 L1084.56,404.43 L1085.69,405.38 L1086.83,406.32 L1087.97,407.26 L1089.12,408.19 L1090.27,409.11 L1091.44,410.03 L1092.60,410.95 L1093.78,411.86 L1094.96,412.77 L1096.14,413.67 L1097.34,414.57 L1098.54,415.46 L1099.74,416.35 L1100.95,417.24 L1102.17,418.12 L1103.39,419.00 L1104.62,419.88 L1105.86,420.76 L1107.10,421.63 L1108.35,422.50 L1109.60,423.37 L1110.86,424.23 L1112.12,425.09 L1113.39,425.94 L1114.67,426.78 L1115.95,427.62 L1117.24,428.44 L1118.54,429.25 L1119.84,430.04 L1121.14,430.82 L1122.46,431.58 L1123.78,432.32 L1125.10,433.04 L1126.43,433.74 L1127.77,434.42 L1129.12,435.07 L1130.47,435.70 L1131.83,436.30 L1133.19,436.87 L1134.57,437.41 L1135.94,437.92 L1137.33,438.39 L1138.72,438.83 L1140.12,439.23 L1141.53,439.59 L1142.94,439.92 L1144.36,440.20 L1145.78,440.45 L1147.22,440.64 L1148.66,440.80 L1150.11,440.90 L1151.56,440.96 L1153.02,440.97 L1154.49,440.92 L1155.95,440.82 L1157.42,440.65 L1158.88,440.43 L1160.33,440.13 L1161.77,439.77 L1163.20,439.33 L1164.62,438.81 L1166.01,438.21 L1167.38,437.52 L1168.73,436.77 L1170.07,435.95 L1171.39,435.11 L1172.70,434.24 L1174.01,433.37 L1175.31,432.52 L1176.62,431.71 L1177.92,430.94 L1179.24,430.25 L1180.56,429.65 L1181.90,429.15 L1183.25,428.77 L1184.61,428.48 L1185.98,428.30 L1187.35,428.21 L1188.73,428.21 L1190.10,428.30 L1191.47,428.47 L1192.83,428.73 L1194.19,429.06 L1195.53,429.46 L1196.86,429.93 L1198.16,430.46 L1199.45,431.05 L1200.72,431.70 L1201.96,432.40 L1203.18,433.14 L1204.36,433.94 L1205.52,434.77 L1206.66,435.65 L1207.77,436.57 L1208.85,437.52 L1209.91,438.52 L1210.95,439.55 L1211.97,440.61 L1212.97,441.70 L1213.94,442.82 L1214.90,443.97 L1215.84,445.15 L1216.76,446.35 L1217.66,447.57 L1218.54,448.81 L1219.41,450.08 L1220.26,451.35 L1221.10,452.65 L1221.93,453.95 L1222.74,455.27 L1223.54,456.60 L1224.33,457.93 L1225.10,459.27 L1225.87,460.62 L1226.62,461.96 L1227.37,463.31 L1228.11,464.66 L1228.84,466.00 L1229.57,467.35 L1230.29,468.69 L1231.00,470.03 L1231.70,471.37 L1232.39,472.71 L1233.08,474.05 L1233.77,475.39 L1234.44,476.73 L1235.11,478.07 L1235.78,479.41 L1236.44,480.75 L1237.09,482.08 L1237.74,483.42 L1238.38,484.76 L1239.02,486.10 L1239.65,487.43 L1240.28,488.77 L1240.91,490.11 L1241.53,491.45 L1242.14,492.78 L1242.76,494.12 L1243.37,495.46 L1243.97,496.80 L1244.58,498.14 L1245.18,499.48 L1245.78,500.82 L1246.37,502.17 L1246.97,503.51 L1247.56,504.85 L1248.15,506.20 L1248.74,507.55 L1249.32,508.89 L1249.91,510.24 L1250.49,511.59 L1251.08,512.94 L1251.66,514.29 L1252.24,515.65 L1252.82,517.00 L1253.40,518.36 L1253.97,519.71 L1254.55,521.07 L1255.12,522.43 L1255.69,523.79 L1256.27,525.15 L1256.84,526.51 L1257.41,527.87 L1257.97,529.24 L1258.54,530.60 L1259.11,531.97 L1259.67,533.34 L1260.24,534.70 L1260.80,536.07 L1261.36,537.44 L1261.92,538.81 L1262.48,540.18 L1263.04,541.55 L1263.60,542.93 L1264.16,544.30 L1264.71,545.67 L1265.27,547.05 L1265.82,548.43 L1266.37,549.80 L1266.93,551.18 L1267.48,552.56 L1268.03,553.94 L1268.58,555.32 L1269.13,556.70 L1269.67,558.08 L1270.22,559.46 L1270.77,560.84 L1271.31,562.23 L1271.86,563.61 L1272.40,565.00 L1272.94,566.38 L1273.49,567.77 L1274.03,569.15 L1274.57,570.54 L1275.11,571.93 L1275.65,573.32 L1276.19,574.70 L1276.73,576.09 L1277.27,577.48 L1277.80,578.87 L1278.34,580.26 L1278.88,581.66 L1279.41,583.05 L1279.95,584.44 L1280.48,585.83 L1281.01,587.22 L1281.55,588.62 L1282.08,590.01 L1282.61,591.40 L1283.15,592.80 L1283.68,594.19 L1284.21,595.59 L1284.74,596.98 L1285.27,598.38 L1285.80,599.78 L1286.33,601.17 L1286.86,602.57 L1287.39,603.96 L1287.92,605.36 L1288.45,606.76 L1288.97,608.16 L1289.50,609.55 L1290.03,610.95 L1290.56,612.35 L1291.08,613.75 L1291.61,615.15 L1292.14,616.54 L1292.66,617.94 L1293.19,619.34 L1293.72,620.74 L1294.24,622.14 L1294.77,623.54 L1295.29,624.94 L1295.82,626.34 L1296.34,627.73 L1296.87,629.13 L1297.40,630.53 L1297.92,631.93 L1298.45,633.33 L1298.97,634.73 L1299.50,636.13 L1300.02,637.53 L1300.55,638.93 L1301.07,640.32 L1301.60,641.72 L1302.12,643.12 L1302.65,644.52 L1303.18,645.92 L1303.70,647.31 L1304.23,648.71 L1304.76,650.11 L1305.28,651.51 L1305.81,652.90 L1306.34,654.30 L1306.86,655.70 L1307.39,657.09 L1307.92,658.49 L1308.45,659.88 L1308.97,661.28 L1309.50,662.68 L1310.03,664.07 L1310.56,665.46 L1311.09,666.86 L1311.62,668.25 L1312.15,669.65 L1312.68,671.04 L1313.21,672.43 L1313.74,673.82 L1314.27,675.21 L1314.80,676.61 L1315.34,678.00 L1315.87,679.39 L1316.40,680.78 L1316.94,682.16 L1317.47,683.55 L1318.01,684.94 L1318.54,686.33 L1319.08,687.72 L1319.62,689.10 L1320.15,690.49 L1320.69,691.87 L1321.23,693.26 L1321.77,694.64 L1322.31,696.03 L1322.85,697.41 L1323.39,698.79 L1323.93,700.17 L1324.48,701.55 L1325.02,702.93 L1325.56,704.31 L1326.11,705.69 L1326.65,707.07 L1327.20,708.44 L1327.75,709.82 L1328.29,711.20 L1328.84,712.57 L1329.39,713.94 L1329.94,715.32 L1330.50,716.69 L1331.05,718.06 L1331.60,719.43 L1332.15,720.80 L1332.71,722.17 L1333.27,723.54 L1333.82,724.90 L1334.38,726.27 L1334.94,727.63 L1335.50,729.00"/>
<g style="will-change:transform">
<text stroke="url(#tg)" stroke-width="0.45" transform="matrix(1.0122 0 0 1.0127 764.44 144.75)" font-size="60" letter-spacing="3.5" fill="url(#tg)">Fitting range</text>
<text transform="matrix(0.9045 0 0 1.0000 532.70 261.30)" font-size="24" fill="#1e191a">SPL</text>
<text transform="matrix(1.0556 0 0 1.0647 538.34 287.10)" font-size="24" fill="#1e191a">dB</text>
<text transform="matrix(1.0021 0 0 1.0950 520.60 355.60)" font-size="30" fill="#1e191a">120</text>
<text transform="matrix(1.0378 0 0 1.1100 520.12 450.30)" font-size="30" fill="#1e191a">110</text>
<text transform="matrix(1.0000 0 0 1.0850 520.40 545.70)" font-size="30" fill="#1e191a">100</text>
<text transform="matrix(0.9906 0 0 1.0800 536.51 639.80)" font-size="30" fill="#1e191a">90</text>
<text transform="matrix(0.9813 0 0 1.0800 536.82 732.90)" font-size="30" fill="#1e191a">80</text>
<text transform="matrix(0.9500 0 0 1.1150 537.45 825.90)" font-size="30" fill="#1e191a">70</text>
<text transform="matrix(0.9781 0 0 1.0650 537.02 919.10)" font-size="30" fill="#1e191a">60</text>
<text transform="matrix(0.9688 0 0 1.0650 537.23 1013.30)" font-size="30" fill="#1e191a">50</text>
<text transform="matrix(0.9923 0 0 1.0875 614.92 1038.00)" font-size="30" fill="#1e191a">.25</text>
<text transform="matrix(1.0000 0 0 1.0875 764.00 1038.00)" font-size="30" fill="#1e191a">.5</text>
<text transform="matrix(0.8929 0 0 1.0900 910.11 1038.50)" font-size="30" fill="#1e191a">1</text>
<text transform="matrix(0.9859 0 0 1.1136 947.91 1038.50)" font-size="30" fill="#1e191a">&lt;kHz&gt;</text>
<text transform="matrix(0.9333 0 0 1.0900 1052.07 1038.50)" font-size="30" fill="#1e191a">2</text>
<text transform="matrix(0.9688 0 0 1.0750 1193.00 1038.00)" font-size="30" fill="#1e191a">4</text>
<text transform="matrix(0.9667 0 0 1.0750 1330.03 1038.00)" font-size="30" fill="#1e191a">8</text>
<text stroke="#fff" stroke-width="0.6" transform="matrix(0.9324 0 0 1.0407 663.37 1107.40)" font-size="38" fill="#d7302a">-O-0SPL90</text>
<text stroke="#fff" stroke-width="0.6" transform="matrix(0.9137 0 0 1.0222 907.84 1107.20)" font-size="38" fill="#8bbd26">-F-FOG50</text>
<text stroke="#fff" stroke-width="0.6" transform="matrix(0.8959 0 0 1.0111 1114.40 1107.10)" font-size="38" fill="#93d0d9">-R-RESP60</text>
</g>
</svg>
</body></html>
